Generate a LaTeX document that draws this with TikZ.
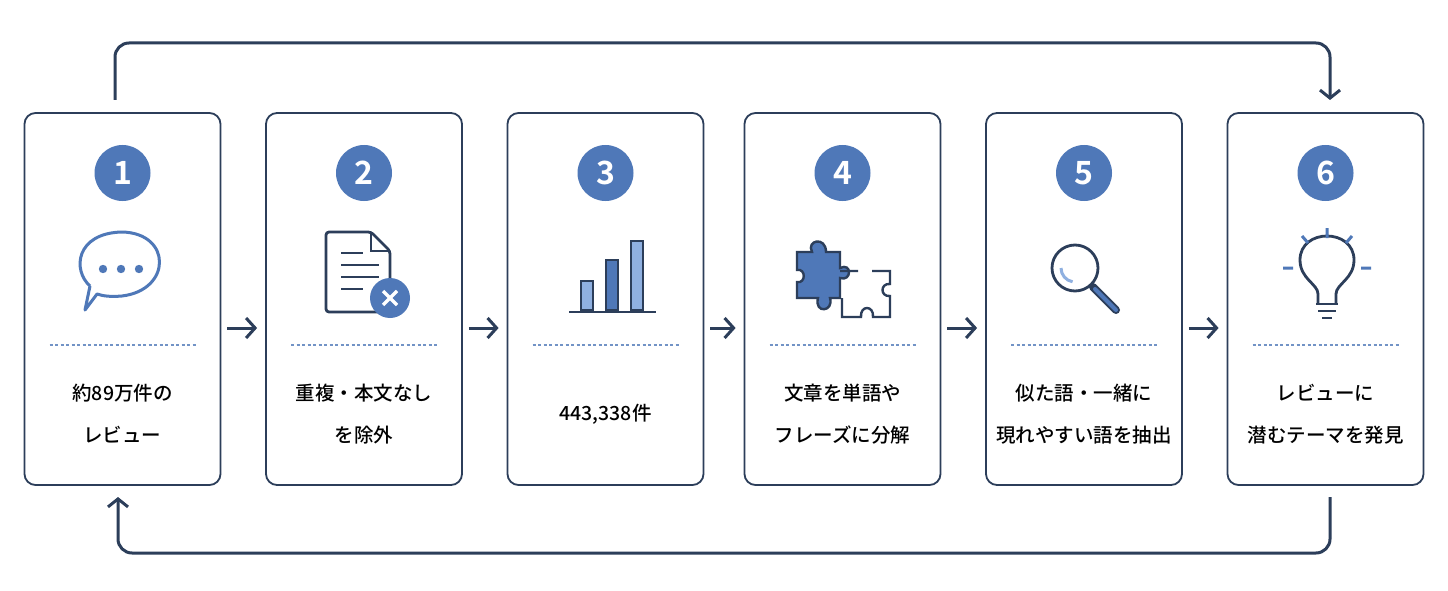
\documentclass[tikz,border=0pt]{standalone}
\usepackage{fontspec}
\setmainfont{Noto Sans CJK JP}[BoldFont={Noto Sans CJK JP Bold}]
\newfontfamily\capfont{Noto Sans CJK JP Medium}
\usetikzlibrary{arrows.meta}
\definecolor{navy}{HTML}{2C3E5A}
\definecolor{accent}{HTML}{4F78B8}
\definecolor{light}{HTML}{8FB0E0}
\tikzset{
  stage/.style={draw=navy,line width=1.8pt,rounded corners=11pt,minimum width=196pt,minimum height=372pt},
  badge/.style={circle,fill=accent,minimum size=56pt,inner sep=0pt,text=white,font=\fontsize{32}{32}\selectfont\bfseries},
  caption/.style={align=center,text=black,font=\capfont\fontsize{19.5}{42}\selectfont},
  flow/.style={draw=navy,line width=3pt,-{Straight Barb[length=9pt,width=20pt,line width=3pt]}},
  loop/.style={draw=navy,line width=3pt,rounded corners=14pt,-{Straight Barb[length=8pt,width=20pt,line width=3pt]}},
  sep/.style={draw=accent!80,line width=1.3pt,dash pattern=on 3pt off 2.5pt}
}
\begin{document}
\begin{tikzpicture}[x=1pt,y=-1pt]
\useasboundingbox (0,0) rectangle (1448,591);
\fill[white] (0,0) rectangle (1448,591);

% boxes, badges, separators
\foreach \n/\cx in {1/122.5,2/364,3/605.5,4/842.5,5/1084,6/1325.5}{
  \node[stage] (box\n) at (\cx,299) {};
  \node[badge] (num\n) at (\cx,173) {\n};
  \draw[sep] (\cx-73,345) -- (\cx+73,345);
}

% captions
\node[caption] (txt1) at (122.5,414) {約89万件の\\レビュー};
\node[caption] (txt2) at (364,414) {重複・本文なし\\を除外};
\node[caption] (txt3) at (605.5,414) {443,338件};
\node[caption] (txt4) at (842.5,414) {文章を単語や\\フレーズに分解};
\node[caption] (txt5) at (1084,414) {似た語・一緒に\\現れやすい語を抽出};
\node[caption] (txt6) at (1325.5,414) {レビューに\\潜むテーマを発見};

% arrows between steps
\foreach \a/\b in {1/2,2/3,3/4,4/5,5/6}{
  \draw[flow] ([xshift=6pt,yshift=-29pt]box\a.east) -- ([xshift=-8pt,yshift=-29pt]box\b.west);
}

% feedback loops
\coordinate (topstart) at (115,100);
\coordinate (topend) at (1330,100);
\draw[loop] (topstart) -- (115,43) -- (1330,43) -- (topend);
\coordinate (botstart) at (1330,497);
\coordinate (botend) at (118,497);
\draw[loop] (botstart) -- (1330,553) -- (118,553) -- (botend);

% icon 1: speech bubble
\draw[accent,line width=3pt,line join=round] (90,286) .. controls (72,270) and (76,233) .. (122,232) .. controls (172,233) and (172,290) .. (122,296) .. controls (110,297) and (103,296) .. (97,294) -- (85,310) -- (90,286);
\foreach \dx in {-18,0,18}{\fill[accent] (121+\dx,269) circle (4.2pt);}

% icon 2: document with cross
\draw[navy,line width=2.8pt,line join=round,rounded corners=3pt] (326,232) -- (371,232) -- (390,251) -- (390,312) -- (326,312) -- cycle;
\draw[navy,line width=2.8pt] (371,232) -- (371,251) -- (390,251);
\foreach \yy/\w in {253/22,265/38,277/38,289/22}{\draw[navy,line width=2.4pt] (341,\yy) -- (341+\w,\yy);}
\fill[accent] (390,298) circle (20pt);
\draw[white,line width=3.5pt] (383,291) -- (397,305) (397,291) -- (383,305);

% icon 3: bar chart
\draw[navy,line width=2.8pt] (569,312) -- (656,312);
\foreach \bx/\bh/\cl in {587/29/light,612/50/accent,637/69/light}{
  \draw[navy,line width=1.8pt,fill=\cl] (\bx-6,310) rectangle (\bx+6,310-\bh);
}

% icon 4: puzzle
\draw[navy,line width=2.4pt,fill=accent] (797,252) -- (812,252) .. controls (806,240) and (826,236) .. (826,252) -- (840,252) -- (840,268) .. controls (852,262) and (852,282) .. (840,278) -- (840,298) -- (830,298) .. controls (834,312) and (814,314) .. (818,298) -- (797,298) -- (797,282) .. controls (806,284) and (806,268) .. (797,270) -- cycle;
\draw[navy,line width=2.4pt] (840,271) -- (858,271) (872,271) -- (890,271) -- (890,284) .. controls (880,283) and (880,297) .. (890,296) -- (890,317) -- (873,317) .. controls (874,305) and (860,305) .. (861,317) -- (842,317) -- (842,298);

% icon 5: magnifier
\draw[navy,line width=2.8pt] (1075,268) circle (23pt);
\draw[light,line width=3pt] (1061,268) arc (180:260:14pt) ;
\draw[navy,line width=8pt,line cap=round] (1093,287) -- (1116,310);
\draw[accent,line width=4pt,line cap=round] (1095,289) -- (1116,310);

% icon 6: light bulb
\draw[navy,line width=2.8pt,line join=round] (1318,303) -- (1318,294) .. controls (1318,284) and (1300,279) .. (1300,260) .. controls (1300,228) and (1354,228) .. (1354,260) .. controls (1354,279) and (1336,284) .. (1336,294) -- (1336,303);
\foreach \yy/\w in {304/11,311/9,318/5}{\draw[navy,line width=2.6pt] (1327-\w,\yy) -- (1327+\w,\yy);}
\draw[accent,line width=3pt] (1327,228) -- (1327,238) (1302,236) -- (1308,243) (1352,236) -- (1346,243) (1283,268) -- (1293,268) (1361,268) -- (1371,268);
\end{tikzpicture}
\end{document}
